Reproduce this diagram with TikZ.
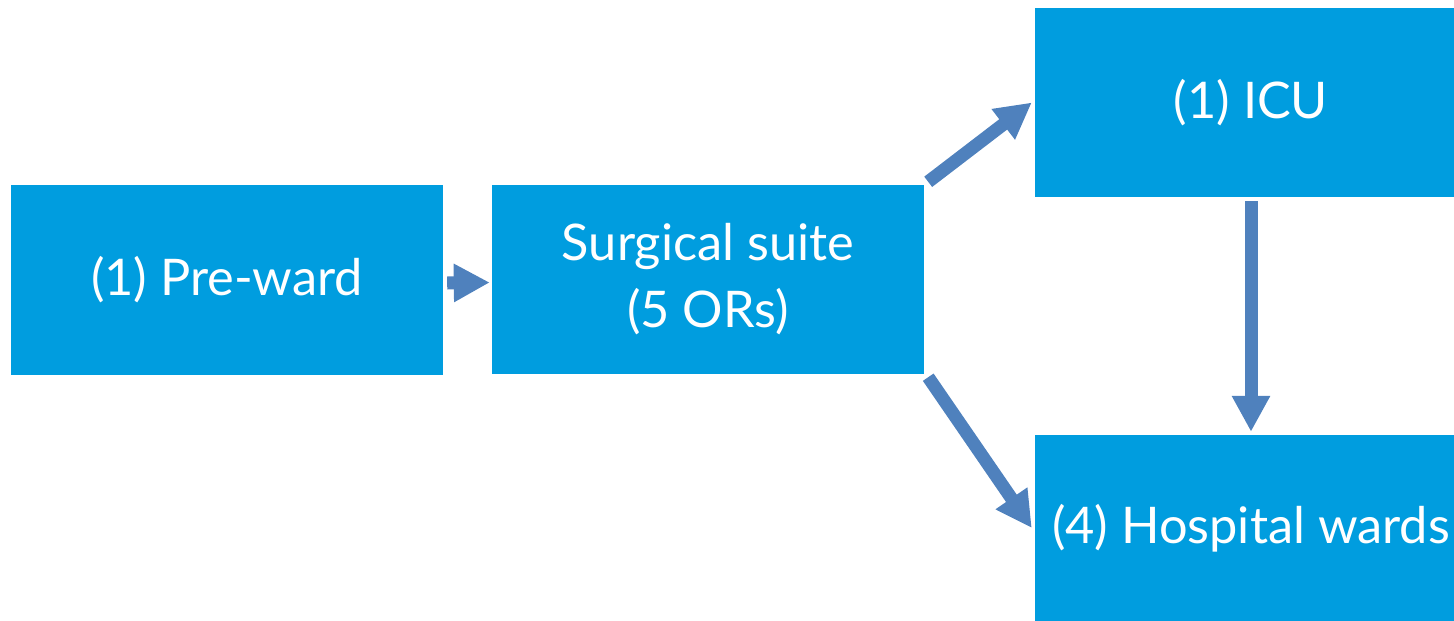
\documentclass[tikz,border=0pt]{standalone}
\usepackage{fontspec}
\setmainfont{Lato}
\usetikzlibrary{arrows.meta}
\definecolor{boxblue}{RGB}{0,157,223}
\definecolor{arrowblue}{RGB}{79,129,189}
\tikzset{
  box/.style={fill=boxblue, draw=none, text=white, align=center, inner sep=0pt,
    minimum width=432pt, font=\fontsize{50.5}{67}\selectfont},
  flow/.style={draw=arrowblue, line width=13pt,
    -{Triangle[width=36pt,length=36pt]}}
}
\begin{document}
\begin{tikzpicture}[x=1pt,y=-1pt]
\useasboundingbox (0,0) rectangle (1454,621);
\clip (0,0) rectangle (1454,621);
\node[box, minimum height=190pt] (pre) at (227,280) {(1) Pre-ward};
\node[box, minimum height=189pt] (surg) at (708,279.5) {Surgical suite\\(5 ORs)};
\node[box, minimum height=189pt] (icu) at (1251,102.5) {(1) ICU};
\node[box, minimum height=186pt] (hosp) at (1251,528) {(4) Hospital wards};
\draw[flow] ([shift={(4,3)}]pre.east) -- ([shift={(-2,3)}]surg.west);
\draw[flow] ([shift={(4,-3)}]surg.north east) -- ([xshift=-3pt]icu.west);
\draw[flow] ([shift={(4,3)}]surg.south east) -- ([xshift=-3pt]hosp.west);
\draw[flow] ([shift={(0,4)}]icu.south) -- ([shift={(0,-3)}]hosp.north);
\end{tikzpicture}
\end{document}
